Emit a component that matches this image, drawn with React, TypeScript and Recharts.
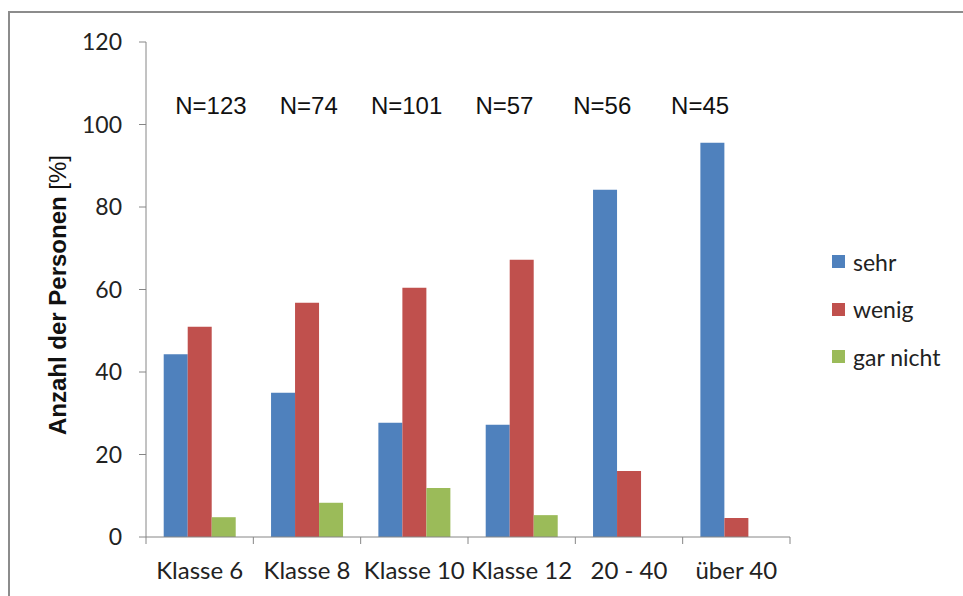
import React from "react";
import { BarChart, Bar, XAxis, YAxis, Legend } from "recharts";

const categories = ["Klasse 6", "Klasse 8", "Klasse 10", "Klasse 12", "20 - 40", "über 40"];
const sehr = [44.3, 35, 27.7, 27.2, 84.2, 95.6];
const wenig = [51, 56.8, 60.4, 67.2, 16, 4.6];
const garNicht = [4.8, 8.3, 11.9, 5.3, 0, 0];
const nLabels = ["N=123", "N=74", "N=101", "N=57", "N=56", "N=45"];
const yTicks = [0, 20, 40, 60, 80, 100, 120];

const seriesNames = ["sehr", "wenig", "gar nicht"];
const colors = ["#4F81BD", "#C0504D", "#9BBB59"];

const data = categories.map((cat, i) => ({
  cat,
  n: nLabels[i],
  sehr: sehr[i],
  wenig: wenig[i],
  garNicht: garNicht[i],
}));

const AXIS = "#868686";
const CAL = "Lato, 'Open Sans', sans-serif";
const ARIAL = "'Liberation Sans', Arial, sans-serif";

const LegendContent = () => (
  <div style={{ fontFamily: CAL, fontSize: 23, color: "#222" }}>
    {seriesNames.map((name, i) => (
      <div key={name} style={{ height: 47.5, display: "flex", alignItems: "center" }}>
        <span style={{ width: 13, height: 13, background: colors[i], display: "inline-block", marginRight: 8 }} />
        <span>{name}</span>
      </div>
    ))}
  </div>
);

const CategoryTick = (props: any) => {
  const { x, y, payload, index } = props;
  const count = props.visibleTicksCount || categories.length;
  const w = Number(props.width) || 644;
  const half = w / count / 2;
  return (
    <g>
      <line x1={x - half} x2={x - half} y1={y} y2={y + 7} stroke={AXIS} />
      {index === count - 1 && <line x1={x + half} x2={x + half} y1={y} y2={y + 7} stroke={AXIS} />}
      <text x={x} y={y + 42} textAnchor="middle" fontFamily={CAL} fontSize={24} fill="#222">
        {payload.value}
      </text>
    </g>
  );
};

export default function App() {
  return (
    <div style={{ position: "absolute", left: 0, top: 0, width: 963, height: 596, overflow: "hidden", background: "#fff" }}>
      <div style={{ position: "absolute", left: 8, top: 11, width: 1000, height: 700, borderTop: "2px solid #8c8c8c", borderLeft: "2px solid #8c8c8c" }} />
      <div style={{ position: "absolute", left: 0, top: 0 }}>
        <BarChart
          width={963}
          height={596}
          data={data}
          margin={{ top: 41, right: 173, bottom: 0, left: 0 }}
          barCategoryGap="16.5%"
          barGap={0}
        >
          <XAxis
            dataKey="cat"
            height={59}
            axisLine={{ stroke: AXIS }}
            tickLine={false}
            tickSize={0}
            tickMargin={0}
            interval={0}
            tick={<CategoryTick />}
          />
          <XAxis
            xAxisId="n"
            dataKey="n"
            orientation="top"
            height={1}
            axisLine={false}
            tickLine={false}
            interval={0}
            padding={{ left: 16, right: 41 }}
            tick={(props: any) => (
              <text x={props.x} y={114} textAnchor="middle" fontFamily={ARIAL} fontSize={24} fill="#111">
                {props.payload.value}
              </text>
            )}
          />
          <YAxis
            width={146}
            domain={[0, 120]}
            ticks={yTicks}
            interval={0}
            tickSize={7}
            tickMargin={17}
            axisLine={{ stroke: AXIS }}
            tickLine={{ stroke: AXIS }}
            tick={{ fill: "#222", fontSize: 23, fontFamily: CAL }}
            label={{
              content: () => (
                <text
                  x={66}
                  y={295}
                  transform="rotate(-90 66 295)"
                  textAnchor="middle"
                  fontFamily={ARIAL}
                  fontSize={24}
                  fill="#111"
                >
                  <tspan fontWeight="bold">Anzahl der Personen</tspan>
                  <tspan> [%]</tspan>
                </text>
              ),
            }}
          />
          <Legend
            layout="vertical"
            align="center"
            verticalAlign="middle"
            content={<LegendContent />}
            wrapperStyle={{ left: 832, top: 238, width: 140 }}
          />
          <Bar dataKey="sehr" name="sehr" fill={colors[0]} isAnimationActive={false} />
          <Bar dataKey="wenig" name="wenig" fill={colors[1]} isAnimationActive={false} />
          <Bar dataKey="garNicht" name="gar nicht" fill={colors[2]} isAnimationActive={false} />
        </BarChart>
      </div>
    </div>
  );
}
